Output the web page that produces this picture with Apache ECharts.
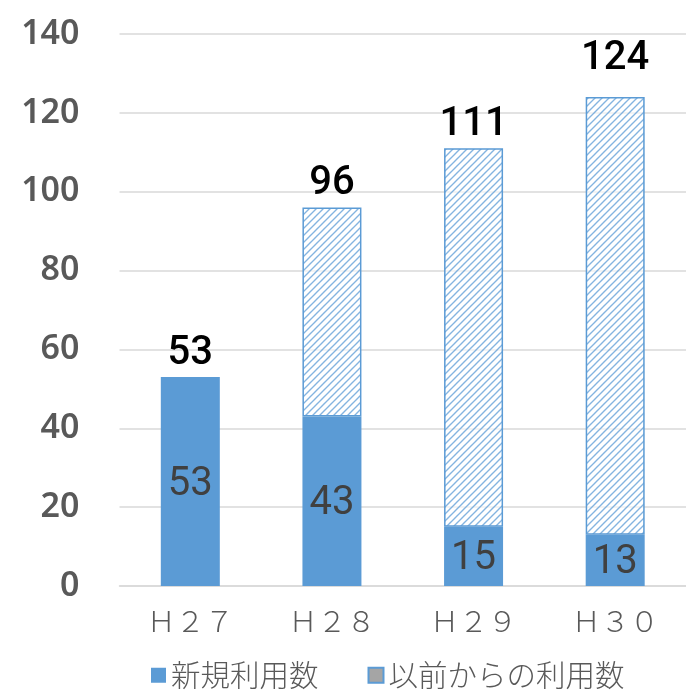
<!DOCTYPE html>
<html><head><meta charset="utf-8">
<script src="https://cdn.jsdelivr.net/npm/echarts@6/dist/echarts.min.js"></script>
<style>html,body{margin:0;padding:0;background:#fff}#c{width:686px;height:695px}</style>
</head><body><div id="c"></div>
<script>
var categories = ['Ｈ２７', 'Ｈ２８', 'Ｈ２９', 'Ｈ３０'];
var newUsers = [53, 43, 15, 13];
var prevUsers = [0, 53, 96, 111];
var totals = [53, 96, 111, 124];
var yTicks = [0, 20, 40, 60, 80, 100, 120, 140];

var blue = '#5B9BD5';
var pc = document.createElement('canvas');
pc.width = 7; pc.height = 7;
var g = pc.getContext('2d');
g.fillStyle = 'rgba(255,255,255,0.6)';
g.fillRect(0, 0, 7, 7);
g.strokeStyle = 'rgba(91,155,213,0.75)';
g.lineWidth = 1.4;
g.beginPath();
g.moveTo(-1, 8); g.lineTo(8, -1);
g.moveTo(-4.5, 4.5); g.lineTo(4.5, -4.5);
g.moveTo(2.5, 11.5); g.lineTo(11.5, 2.5);
g.stroke();

var font = '"Noto Sans CJK JP", "Noto Sans", sans-serif';
var numFont = 'Roboto, "Noto Sans", sans-serif';
var chart = echarts.init(document.getElementById('c'));
chart.setOption({
  animation: false,
  grid: { left: 119.5, width: 572, top: 34, height: 552 },
  legend: {
    bottom: 0, left: 146, itemGap: 49, itemWidth: 15, itemHeight: 15, icon: 'rect',
    textStyle: { fontFamily: font, fontSize: 29.5, color: '#595959', fontWeight: 300 },
    data: [
      { name: '新規利用数', itemStyle: { color: blue } },
      { name: '以前からの利用数', itemStyle: { color: '#A5A5A5', borderColor: blue, borderWidth: 2 } }
    ]
  },
  xAxis: {
    type: 'category', data: categories,
    axisTick: { show: false },
    axisLine: { lineStyle: { color: '#D9D9D9', width: 1.5 } },
    axisLabel: { fontFamily: font, fontSize: 29, color: '#595959', margin: 20, fontWeight: 300 }
  },
  yAxis: {
    type: 'value', min: yTicks[0], max: yTicks[yTicks.length - 1], interval: 20,
    axisLine: { show: false }, axisTick: { show: false },
    splitLine: { lineStyle: { color: '#D9D9D9', width: 1.5 } },
    axisLabel: { fontFamily: '"Noto Sans", sans-serif', fontSize: 34, fontWeight: 600, color: '#595959', margin: 40 }
  },
  series: [
    {
      name: '新規利用数', type: 'bar', stack: 's', barWidth: 59, data: newUsers,
      itemStyle: { color: blue },
      label: { show: true, position: 'inside', offset: [0, 3], fontFamily: numFont, fontSize: 40, color: '#404040' }
    },
    {
      name: '以前からの利用数', type: 'bar', stack: 's', barWidth: 59,
      data: prevUsers.map(function (v, i) {
        if (i === 0) return { value: v, itemStyle: { borderWidth: 0, borderColor: 'transparent' } };
        if (i === prevUsers.length - 1) return { value: v, label: { distance: 18 } };
        return v;
      }),
      itemStyle: { color: { image: pc, repeat: 'repeat' }, borderColor: blue, borderWidth: 1.5 },
      label: {
        show: true, position: 'top', distance: 3,
        fontFamily: numFont, fontSize: 40, fontWeight: 500, color: '#000',
        formatter: function (p) { return totals[p.dataIndex]; }
      }
    }
  ]
});
</script></body></html>
